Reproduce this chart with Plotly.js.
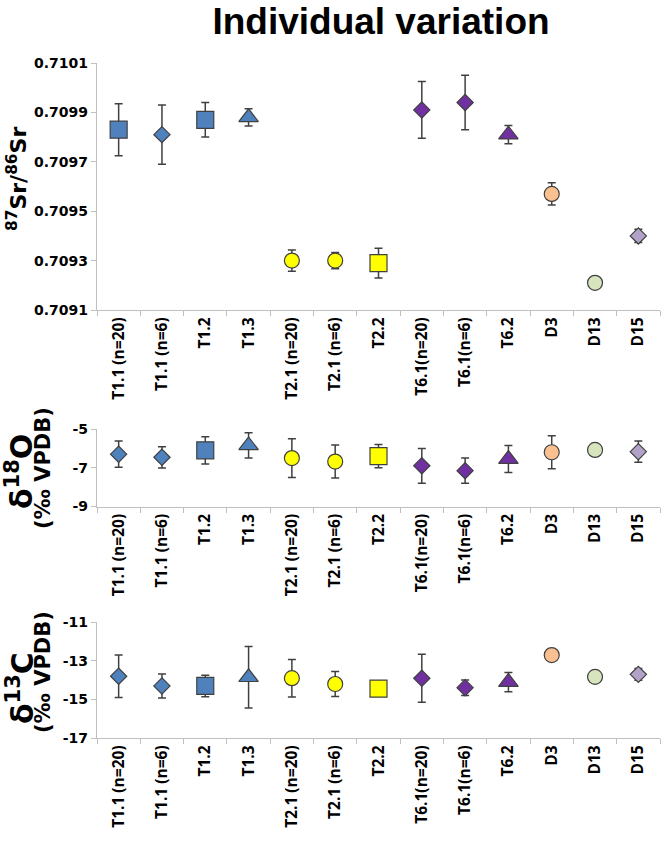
<!DOCTYPE html>
<html>
<head>
<meta charset="utf-8">
<script src="https://cdn.plot.ly/plotly-3.0.1.min.js"></script>
<style>
  html, body { margin: 0; padding: 0; background: #fff; }
  #chart { width: 669px; height: 844px; }
</style>
</head>
<body>
<div id="chart"></div>
<script>
// Sample names (x categories)
const samples = ['T1.1 (n=20)', 'T1.1 (n=6)', 'T1.2', 'T1.3', 'T2.1 (n=20)', 'T2.1 (n=6)', 'T2.2',
                 'T6.1(n=20)', 'T6.1(n=6)', 'T6.2', 'D3', 'D13', 'D15'];

// 87Sr/86Sr mean and error
const srMean = [0.70983, 0.70981, 0.70987, 0.70988, 0.70930, 0.70930, 0.70929,
                0.70991, 0.70994, 0.70981, 0.70957, 0.70921, 0.70940];
const srErr = [0.000105, 0.00012, 0.00007, 0.000035, 0.000043, 0.000033, 0.00006,
               0.000115, 0.00011, 0.000037, 0.000045, 0, 0.000027];
const srTicks = [0.7091, 0.7093, 0.7095, 0.7097, 0.7099, 0.7101];

// d18O (per mil VPDB)
const oMean = [-6.3, -6.46, -6.1, -5.85, -6.5, -6.68, -6.4, -6.9, -7.15, -6.55, -6.2, -6.08, -6.17];
const oErr = [0.68, 0.55, 0.7, 0.65, 1.0, 0.85, 0.6, 0.9, 0.65, 0.7, 0.85, 0, 0.55];
const oTicks = [-9, -7, -5];

// d13C (per mil VPDB)
const cMean = [-13.8, -14.3, -14.3, -13.85, -13.9, -14.2, -14.44, -13.9, -14.39, -14.1, -12.7, -13.83, -13.7];
const cErr = [1.1, 0.62, 0.56, 1.6, 0.97, 0.65, 0, 1.24, 0.4, 0.5, 0, 0, 0.3];
const cTicks = [-17, -15, -13, -11];

// marker styles per sample
const symbols = ['diamond', 'diamond', 'square', 'triangle-up', 'circle', 'circle', 'square',
                 'diamond', 'diamond', 'triangle-up', 'circle', 'circle', 'diamond'];
const srSymbols = ['square'].concat(symbols.slice(1)); // first one is a square in the Sr panel
const colors = ['#4f81bd', '#4f81bd', '#4f81bd', '#4f81bd', '#ffff00', '#ffff00', '#ffff00',
                '#7030a0', '#7030a0', '#7030a0', '#fac090', '#d7e4bd', '#b3a2c7'];
const symbolSize = { 'square': 17, 'diamond': 12.5, 'circle': 15, 'triangle-up': 17 };

const W = 669, H = 844;
const M = { l: 97, r: 9, t: 63, b: 106 };
const plotW = W - M.l - M.r, plotH = H - M.t - M.b;
// pixel -> paper helpers
const px = x => (x - M.l) / plotW;
const py = y => (H - M.b - y) / plotH;

function trace(yv, err, syms, xa, ya) {
    return {
        x: samples,
        y: yv,
        xaxis: xa,
        yaxis: ya,
        type: 'scatter',
        mode: 'markers',
        error_y: { type: 'data', array: err, visible: true, color: '#404040', thickness: 1.5, width: 4 },
        marker: {
            symbol: syms,
            size: syms.map(s => symbolSize[s]),
            color: colors,
            opacity: 1,
            line: { color: '#404040', width: 1.2 }
        },
        hoverinfo: 'x+y'
    };
}

const data = [
    trace(srMean, srErr, srSymbols, 'x', 'y'),
    trace(oMean, oErr, symbols, 'x2', 'y2'),
    trace(cMean, cErr, symbols, 'x3', 'y3')
];

const tickFont = { family: 'Open Sans, sans-serif', size: 15.5, weight: 700, color: '#000' };
const yTickFont = { family: 'DejaVu Sans, sans-serif', size: 14, weight: 700, color: '#000' };

function xAxis(anchor) {
    return {
        anchor: anchor,
        type: 'category',
        range: [-0.5, samples.length - 0.5],
        showline: true, linecolor: '#bfbfbf', linewidth: 1.3,
        ticks: 'outside', ticklen: 5, tickcolor: '#bfbfbf', tickwidth: 1.3,
        tickson: 'boundaries',
        tickangle: -90,
        tickfont: tickFont,
        showgrid: false, zeroline: false
    };
}

function yAxis(anchor, domain, range, tickvals, labels) {
    return {
        anchor: anchor,
        domain: domain,
        range: range,
        tickmode: 'array',
        tickvals: tickvals,
        ticktext: labels,
        showline: true, linecolor: '#bfbfbf', linewidth: 1.3,
        ticks: 'outside', ticklen: 5, tickcolor: '#bfbfbf', tickwidth: 1.3,
        tickfont: yTickFont,
        showgrid: false, zeroline: false
    };
}

const bigFont = { family: 'DejaVu Sans, sans-serif', size: 30, weight: 700, color: '#000' };
const smallFont = { family: 'DejaVu Sans, sans-serif', size: 21, weight: 700, color: '#000' };

function yLabel(text, x, y, font) {
    return {
        text: text, xref: 'paper', yref: 'paper', x: px(x), y: py(y),
        xanchor: 'center', yanchor: 'middle', textangle: -90, showarrow: false, font: font
    };
}

const layout = {
    width: W, height: H,
    margin: M,
    paper_bgcolor: '#fff', plot_bgcolor: '#fff',
    showlegend: false,
    title: {
        text: 'Individual variation',
        xref: 'container', yref: 'container',
        x: 381 / W, y: 1 - 21 / H, xanchor: 'center', yanchor: 'middle',
        font: { family: 'Liberation Sans, Arial, sans-serif', size: 37, weight: 700, color: '#000' }
    },
    xaxis: xAxis('y'),
    xaxis2: xAxis('y2'),
    xaxis3: xAxis('y3'),
    yaxis: yAxis('x', [py(310), 1], [0.7091, 0.7101], srTicks, srTicks.map(v => v.toFixed(4))),
    yaxis2: yAxis('x2', [py(506.5), py(429)], [-9, -5], oTicks, oTicks.map(String)),
    yaxis3: yAxis('x3', [0, py(622.3)], [-17, -11], cTicks, cTicks.map(String)),
    annotations: [
        yLabel('<sup>87</sup>Sr/<sup>86</sup>Sr', 17, 179, { family: 'DejaVu Sans, sans-serif', size: 22, weight: 700, color: '#000' }),
        yLabel('δ<sup>18</sup>O', 19, 472, bigFont),
        yLabel('(‰ VPDB)', 43, 468, smallFont),
        yLabel('δ<sup>13</sup>C', 20, 688, bigFont),
        yLabel('(‰ VPDB)', 43, 672, smallFont)
    ]
};

Plotly.newPlot('chart', data, layout, { displayModeBar: false });
</script>
</body>
</html>
